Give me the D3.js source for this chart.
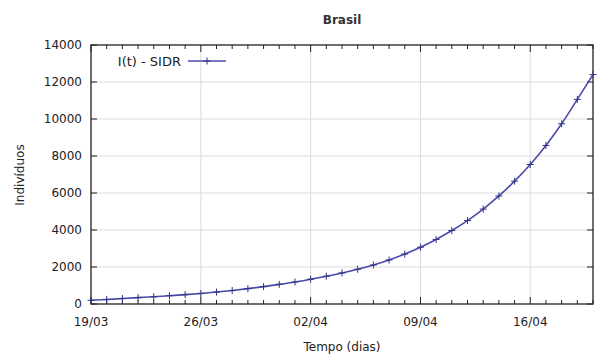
<!DOCTYPE html>
<html>
<head>
<meta charset="utf-8">
<script src="https://cdn.jsdelivr.net/npm/d3@7"></script>
<style>
  body { margin: 0; background: #fff; }
  svg { display: block; }
</style>
</head>
<body>
<div id="chart"></div>
<script>
// chart size and margins
const width = 602;
const height = 355;
const marginTop = 45;
const marginRight = 9;
const marginBottom = 51;
const marginLeft = 91;

// data: one value per day from 19/03 to 20/04
const startDate = new Date(2020, 2, 19);
const values = [
  200, 245, 295, 345, 395, 450, 505, 570, 645, 730,
  830, 940, 1060, 1190, 1340, 1500, 1680, 1880, 2110, 2380,
  2700, 3070, 3490, 3970, 4510, 5130, 5840, 6640, 7540, 8570,
  9740, 11060, 12400
];
const seriesName = "I(t) - SIDR";
const yTicks = [0, 2000, 4000, 6000, 8000, 10000, 12000, 14000];
const xTickLabels = ["19/03", "26/03", "02/04", "09/04", "16/04"];

const days = values.map((v, i) => d3.timeDay.offset(startDate, i));
const data = values.map((v, i) => ({ date: days[i], value: v }));

const x = d3.scaleTime()
  .domain([startDate, days[days.length - 1]])
  .range([marginLeft, width - marginRight]);

const y = d3.scaleLinear()
  .domain([0, 14000])
  .range([height - marginBottom, marginTop]);

const svg = d3.select("#chart").append("svg")
  .attr("width", width)
  .attr("height", height)
  .style("font-family", "'DejaVu Sans', sans-serif");

const weekTicks = xTickLabels.map((d, i) => d3.timeDay.offset(startDate, i * 7));

// grid
svg.append("g")
  .selectAll("line")
  .data(yTicks.slice(1, -1))
  .join("line")
  .attr("x1", marginLeft).attr("x2", width - marginRight)
  .attr("y1", d => y(d)).attr("y2", d => y(d))
  .attr("stroke", "#dcdcdc")
  .attr("stroke-width", 1);

svg.append("g")
  .selectAll("line")
  .data(weekTicks.slice(1))
  .join("line")
  .attr("x1", d => x(d)).attr("x2", d => x(d))
  .attr("y1", marginTop).attr("y2", height - marginBottom)
  .attr("stroke", "#dcdcdc")
  .attr("stroke-width", 1);

// ticks (inward) on all four sides
const tickG = svg.append("g").attr("stroke", "#222").attr("stroke-width", 1);
yTicks.forEach(t => {
  tickG.append("line").attr("x1", marginLeft).attr("x2", marginLeft + 6)
    .attr("y1", y(t)).attr("y2", y(t));
  tickG.append("line").attr("x1", width - marginRight).attr("x2", width - marginRight - 6)
    .attr("y1", y(t)).attr("y2", y(t));
});
days.forEach(d => {
  const major = weekTicks.some(w => +w === +d);
  const len = major ? 7 : 4;
  tickG.append("line").attr("x1", x(d)).attr("x2", x(d))
    .attr("y1", height - marginBottom).attr("y2", height - marginBottom - len);
  tickG.append("line").attr("x1", x(d)).attr("x2", x(d))
    .attr("y1", marginTop).attr("y2", marginTop + len);
});

// frame
svg.append("rect")
  .attr("x", marginLeft).attr("y", marginTop)
  .attr("width", width - marginLeft - marginRight)
  .attr("height", height - marginTop - marginBottom)
  .attr("fill", "none")
  .attr("stroke", "#222")
  .attr("stroke-width", 1.3);

// tick labels
svg.append("g")
  .selectAll("text")
  .data(yTicks)
  .join("text")
  .attr("x", marginLeft - 9)
  .attr("y", d => y(d))
  .attr("dy", "0.35em")
  .attr("text-anchor", "end")
  .attr("font-size", 12)
  .attr("fill", "#222")
  .text(d => d);

svg.append("g")
  .selectAll("text")
  .data(weekTicks)
  .join("text")
  .attr("x", d => x(d))
  .attr("y", height - marginBottom + 18)
  .attr("dy", "0.35em")
  .attr("text-anchor", "middle")
  .attr("font-size", 12)
  .attr("fill", "#222")
  .text((d, i) => xTickLabels[i]);

// series line
const line = d3.line()
  .x(d => x(d.date))
  .y(d => y(d.value))
  .curve(d3.curveMonotoneX);

const lineColor = "#4a4aaa";
svg.append("path")
  .datum(data)
  .attr("fill", "none")
  .attr("stroke", lineColor)
  .attr("stroke-width", 1.6)
  .attr("d", line);

// + markers
const markerSize = 3.5;
svg.append("g")
  .attr("stroke", "#333388")
  .attr("stroke-width", 1)
  .selectAll("path")
  .data(data)
  .join("path")
  .attr("d", d => {
    const cx = x(d.date), cy = y(d.value);
    return `M${cx - markerSize},${cy}H${cx + markerSize}M${cx},${cy - markerSize}V${cy + markerSize}`;
  });

// legend
const legend = svg.append("g");
legend.append("text")
  .attr("x", 181)
  .attr("y", 61)
  .attr("dy", "0.35em")
  .attr("text-anchor", "end")
  .attr("font-size", 13)
  .attr("fill", "#222")
  .text(seriesName);
legend.append("line")
  .attr("x1", 188).attr("x2", 226)
  .attr("y1", 61).attr("y2", 61)
  .attr("stroke", lineColor)
  .attr("stroke-width", 1.6);
legend.append("path")
  .attr("d", `M${207 - markerSize},61H${207 + markerSize}M207,${61 - markerSize}V${61 + markerSize}`)
  .attr("stroke", "#333388")
  .attr("stroke-width", 1);

// title and axis labels
svg.append("text")
  .attr("x", 342).attr("y", 20)
  .attr("dy", "0.35em")
  .attr("text-anchor", "middle")
  .attr("font-size", 12)
  .attr("font-weight", "bold")
  .attr("fill", "#333")
  .text("Brasil");

svg.append("text")
  .attr("x", 342).attr("y", 347)
  .attr("dy", "0.35em")
  .attr("text-anchor", "middle")
  .attr("font-size", 12)
  .attr("fill", "#222")
  .text("Tempo (dias)");

svg.append("text")
  .attr("transform", "translate(20,175) rotate(-90)")
  .attr("dy", "0.35em")
  .attr("text-anchor", "middle")
  .attr("font-size", 12)
  .attr("fill", "#222")
  .text("Indivíduos");
</script>
</body>
</html>
